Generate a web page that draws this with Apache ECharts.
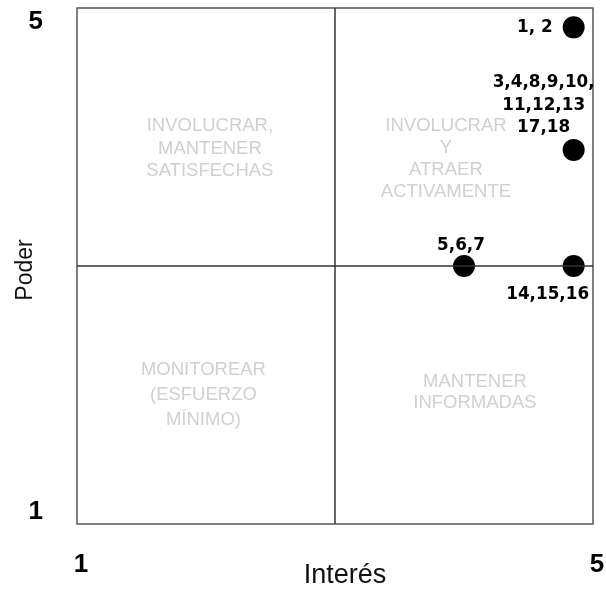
<!DOCTYPE html>
<html>
<head>
<meta charset="utf-8">
<script src="https://cdn.jsdelivr.net/npm/echarts@6/dist/echarts.min.js"></script>
<style>html,body{margin:0;padding:0;background:#fff}#c{width:606px;height:589px}</style>
</head>
<body>
<div id="c"></div>
<script>
// ---- data ----
var interes = [4.85, 4.85, 4.0, 4.85];
var poder = [4.85, 3.9, 3.0, 3.0];
var pointLabels = ['1, 2', '3,4,8,9,10,\n11,12,13\n17,18', '5,6,7', '14,15,16'];
var tickLabels = ['1', '5'];
var quadrantTexts = ['INVOLUCRAR,\nMANTENER\nSATISFECHAS', 'INVOLUCRAR\nY\nATRAER\nACTIVAMENTE', 'MONITOREAR\n(ESFUERZO\nMÍNIMO)', 'MANTENER\nINFORMADAS'];
var axisMin = 1, axisMax = 5, axisMid = 3;

// ---- presentation ----
var labelCfg = [
  {position: 'left', distance: 10, align: 'right'},
  {position: 'top', distance: 0, offset: [-30, 0], lineHeight: 22.5, align: 'center'},
  {position: 'top', distance: 1, offset: [-3, 0], align: 'center'},
  {position: 'bottom', distance: 9, offset: [-26, 0], align: 'center'}
];
var quadCfg = [
  {coord: [2.03, 3.91], lineHeight: 22.5},
  {coord: [3.86, 3.83], lineHeight: 22},
  {coord: [1.98, 2.0], lineHeight: 25},
  {coord: [4.085, 2.02], lineHeight: 21.5}
];

var pts = interes.map(function (x, i) {
  var c = labelCfg[i];
  return {
    value: [x, poder[i]],
    label: Object.assign({
      show: true, formatter: pointLabels[i], color: '#000',
      fontFamily: 'DejaVu Sans', fontWeight: 'bold', fontSize: 16.8
    }, c)
  };
});
var quads = quadrantTexts.map(function (t, i) {
  return {
    value: quadCfg[i].coord,
    label: {show: true, position: 'inside', formatter: t, lineHeight: quadCfg[i].lineHeight}
  };
});

var chart = echarts.init(document.getElementById('c'), null, {renderer: 'canvas'});
chart.setOption({
  animation: false,
  backgroundColor: '#fff',
  grid: {left: 77, top: 8, right: 13, bottom: 65, show: true, borderColor: '#555', borderWidth: 1.5, containLabel: false, outerBoundsMode: 'none'},
  xAxis: {
    type: 'value', min: axisMin, max: axisMax, interval: axisMax - axisMin,
    name: 'Interés', nameLocation: 'middle', nameGap: 38, nameMoveOverlap: false,
    nameTextStyle: {fontFamily: 'Liberation Sans', fontSize: 27, color: '#111', padding: [0, 0, 0, 20]},
    axisLine: {show: false}, axisTick: {show: false}, splitLine: {show: false},
    axisLabel: {
      margin: 28,
      formatter: function (v) { return '{a|' + (v === axisMin ? tickLabels[0] : tickLabels[1]) + '}'; },
      rich: {a: {fontFamily: 'Liberation Sans', fontWeight: 'bold', fontSize: 26, color: '#000', padding: [0, 0, 0, 8]}}
    }
  },
  yAxis: {
    type: 'value', min: axisMin, max: axisMax, interval: axisMax - axisMin,
    name: 'Poder', nameLocation: 'middle', nameGap: 40, nameMoveOverlap: false,
    nameTextStyle: {fontFamily: 'Liberation Sans', fontSize: 23, color: '#111', padding: [0, 8, 0, 0]},
    axisLine: {show: false}, axisTick: {show: false}, splitLine: {show: false},
    axisLabel: {
      margin: 34,
      formatter: function (v) { return v === axisMax ? '{t|' + tickLabels[1] + '}' : '{b|' + tickLabels[0] + '}'; },
      rich: {
        t: {fontFamily: 'Liberation Sans', fontWeight: 'bold', fontSize: 26, color: '#000', padding: [27, 0, 0, 0]},
        b: {fontFamily: 'Liberation Sans', fontWeight: 'bold', fontSize: 26, color: '#000', padding: [0, 0, 24, 0]}
      }
    }
  },
  series: [
    {
      type: 'scatter', symbolSize: 0, silent: true, z: 1,
      label: {fontFamily: 'Liberation Sans', fontSize: 18.5, color: '#c4c4c4', align: 'center', verticalAlign: 'middle'},
      data: quads
    },
    {
      type: 'scatter', symbol: 'circle', symbolSize: 22, z: 3,
      itemStyle: {color: '#000', opacity: 1},
      data: pts,
      markLine: {
        silent: true, symbol: ['none', 'none'], label: {show: false},
        lineStyle: {color: '#333', width: 1.5, type: 'solid'},
        emphasis: {disabled: true},
        data: [{xAxis: axisMid}, {yAxis: axisMid}]
      }
    }
  ]
});
</script>
</body>
</html>
